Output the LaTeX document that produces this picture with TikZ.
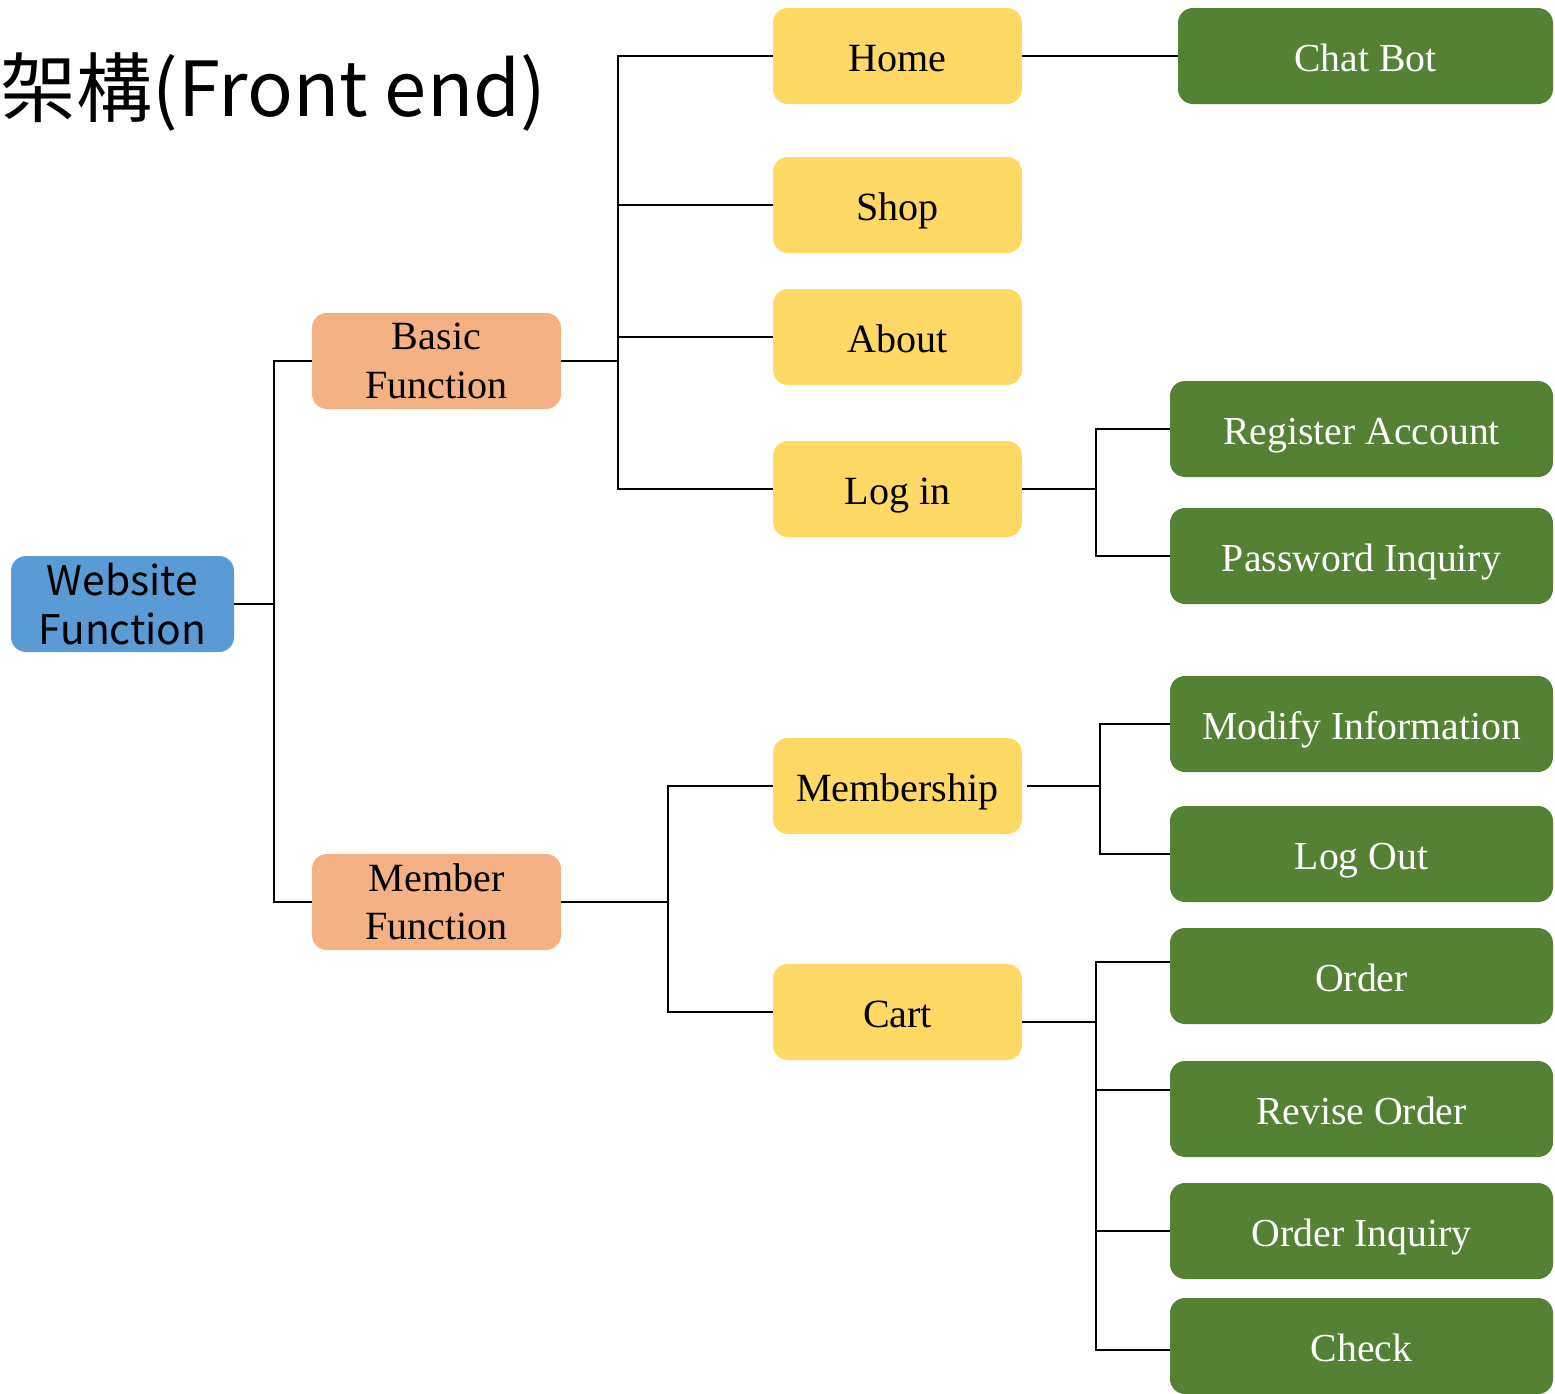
\documentclass[tikz,border=0pt]{standalone}
\usepackage{fontspec}
\setmainfont{Liberation Serif}
\newfontfamily\cjkfont{Noto Sans CJK TC}
\usepackage{tikz}
\usetikzlibrary{positioning,calc}
\definecolor{rootblue}{HTML}{5B9BD5}
\definecolor{grouporange}{HTML}{F4B183}
\definecolor{pageyellow}{HTML}{FFD966}
\definecolor{leafgreen}{HTML}{548235}

\begin{document}
\begin{tikzpicture}[line width=0.4pt,
  box/.style={rounded corners=0.15cm,inner sep=0,outer sep=0,align=center,minimum height=0.96cm},
  root node/.style={box,fill=rootblue,minimum width=2.23cm,font=\cjkfont\fontsize{11.6}{13.7}\selectfont},
  group node/.style={box,fill=grouporange,minimum width=2.49cm,font=\fontsize{11.4}{13.7}\selectfont},
  page node/.style={box,fill=pageyellow,minimum width=2.49cm,text height=11pt,text depth=2.4pt,font=\fontsize{11.4}{13.7}\selectfont},
  leaf node/.style={box,fill=leafgreen,text=white,minimum width=3.83cm,text height=11pt,text depth=2.4pt,font=\fontsize{11.3}{13.7}\selectfont}]
    \useasboundingbox (0,0) rectangle (15.55,-13.94);
    \node[anchor=west,inner sep=0,font=\cjkfont\fontsize{21.6}{26}\selectfont](T) at (0,-0.92){架構(Front end)};
    \node[root node](W) at (1.225,-6.04){Website\\Function};
    \node[group node](B1) at (4.365,-3.61){Basic\\Function};
    \node[group node,below=4.45cm of B1](B2){Member\\Function};
    % pages
    \node[page node](P1) at (8.975,-0.56){Home};
    \node[page node,below=0.53cm of P1](P2){Shop};
    \node[page node,below=0.36cm of P2](P3){About};
    \node[page node,below=0.56cm of P3](P4){Log in};
    \node[page node,below=2.01cm of P4](P5){Membership};
    \node[page node,below=1.30cm of P5](P6){Cart};
    % leaves
    \node[leaf node,minimum width=3.75cm,right=1.56cm of P1](L1){Chat Bot};
    \node[leaf node](L2) at (13.615,-4.29){Register Account};
    \node[leaf node,below=0.31cm of L2](L3){Password Inquiry};
    \node[leaf node,below=0.72cm of L3](L4){Modify Information};
    \node[leaf node,below=0.34cm of L4](L5){Log Out};
    \node[leaf node,below=0.26cm of L5](L6){Order};
    \node[leaf node,below=0.37cm of L6](L7){Revise Order};
    \node[leaf node,below=0.26cm of L7](L8){Order Inquiry};
    \node[leaf node,below=0.19cm of L8](L9){Check};
    % connectors
    \coordinate(jW) at ($(W.east)+(0.40,0)$);
    \coordinate(jB) at ($(B1.east)+(0.57,0)$);
    \coordinate(jM) at ($(B2.east)+(1.07,0)$);
    \coordinate(jL) at ($(P4.east)+(0.74,0)$);
    \coordinate(jS) at ($(P5.east)+(0.78,0)$);
    \coordinate(jC) at ($(P6.east)+(0.74,-0.10)$);
    \draw (W.east) -- (jW) (B1.west) -| (jW) |- (B2.west);
    \draw (B1.east) -- (jB) (P1.west) -| (jB) |- (P4.west);
    \foreach \n in {P2,P3} \draw (\n.west) -- (\n.west -| jB);
    \draw (B2.east) -- (jM) (P5.west) -| (jM) |- (P6.west);
    \draw (P1) -- (L1);
    \draw (P4.east) -- (jL) (L2.west) -| (jL) |- (L3.west);
    \draw ([xshift=0.05cm]P5.east) -- (jS) (L4.west) -| (jS) |- (L5.west);
    \draw ([yshift=-0.10cm]P6.east) -- (jC) ([yshift=0.14cm]L6.west) -| (jC) |- ([yshift=-0.04cm]L9.west);
    \draw ([yshift=0.19cm]L7.west) -- ([yshift=0.19cm]L7.west -| jC)
          (L8.west) -- (L8.west -| jC);
\end{tikzpicture}
\end{document}
